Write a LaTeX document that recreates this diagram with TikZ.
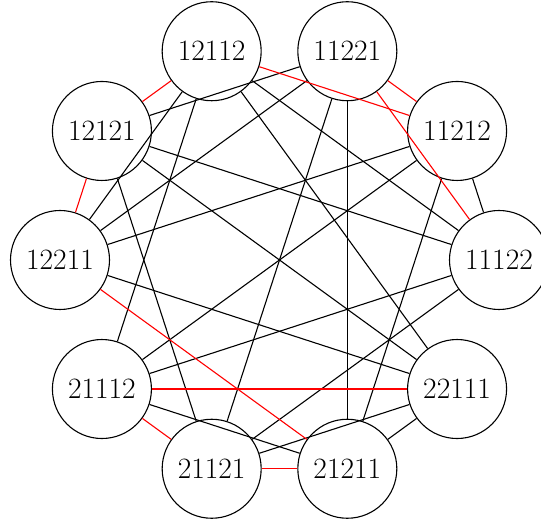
\documentclass[tikz,border=0pt]{standalone}
\begin{document}
\begin{tikzpicture}[x=1pt,y=1pt,
  vtx/.style={draw, circle, minimum size=99pt, inner sep=0pt, line width=1.1pt,
    font=\fontsize{29.5}{35}\selectfont},
  edge/.style={line width=1.1pt, black},
  hp/.style={line width=1.1pt, red}]
\useasboundingbox (0,0) rectangle (541,524);
\begin{scope}[shift={(279.5,264)}]
\node[vtx] (A) at (108:219.5pt) {12112};
\node[vtx] (B) at (72:219.5pt) {11221};
\node[vtx] (C) at (36:219.5pt) {11212};
\node[vtx] (D) at (0:219.5pt) {11122};
\node[vtx] (E) at (-36:219.5pt) {22111};
\node[vtx] (F) at (-72:219.5pt) {21211};
\node[vtx] (G) at (-108:219.5pt) {21121};
\node[vtx] (H) at (-144:219.5pt) {21112};
\node[vtx] (I) at (180:219.5pt) {12211};
\node[vtx] (J) at (144:219.5pt) {12121};
\end{scope}
% black edges
\draw[edge] (E) -- (F);
\draw[edge] (E) -- (G);
\draw[edge] (F) -- (H);
\draw[edge] (A) -- (E);
\draw[edge] (A) -- (I);
\draw[edge] (E) -- (I);
\draw[edge] (E) -- (J);
\draw[edge] (B) -- (F);
\draw[edge] (B) -- (I);
\draw[edge] (C) -- (F);
\draw[edge] (C) -- (I);
\draw[edge] (B) -- (G);
\draw[edge] (B) -- (J);
\draw[edge] (D) -- (G);
\draw[edge] (D) -- (J);
\draw[edge] (G) -- (J);
\draw[edge] (A) -- (D);
\draw[edge] (A) -- (H);
\draw[edge] (C) -- (D);
\draw[edge] (C) -- (H);
\draw[edge] (D) -- (H);
% red path
\draw[hp] (A) -- (J);
\draw[hp] (J) -- (I);
\draw[hp] (I) -- (F);
\draw[hp] (F) -- (G);
\draw[hp] (G) -- (H);
\draw[hp] (H) -- (E);
\draw[hp] (A) -- (C);
\draw[hp] (C) -- (B);
\draw[hp] (B) -- (D);
\end{tikzpicture}
\end{document}
